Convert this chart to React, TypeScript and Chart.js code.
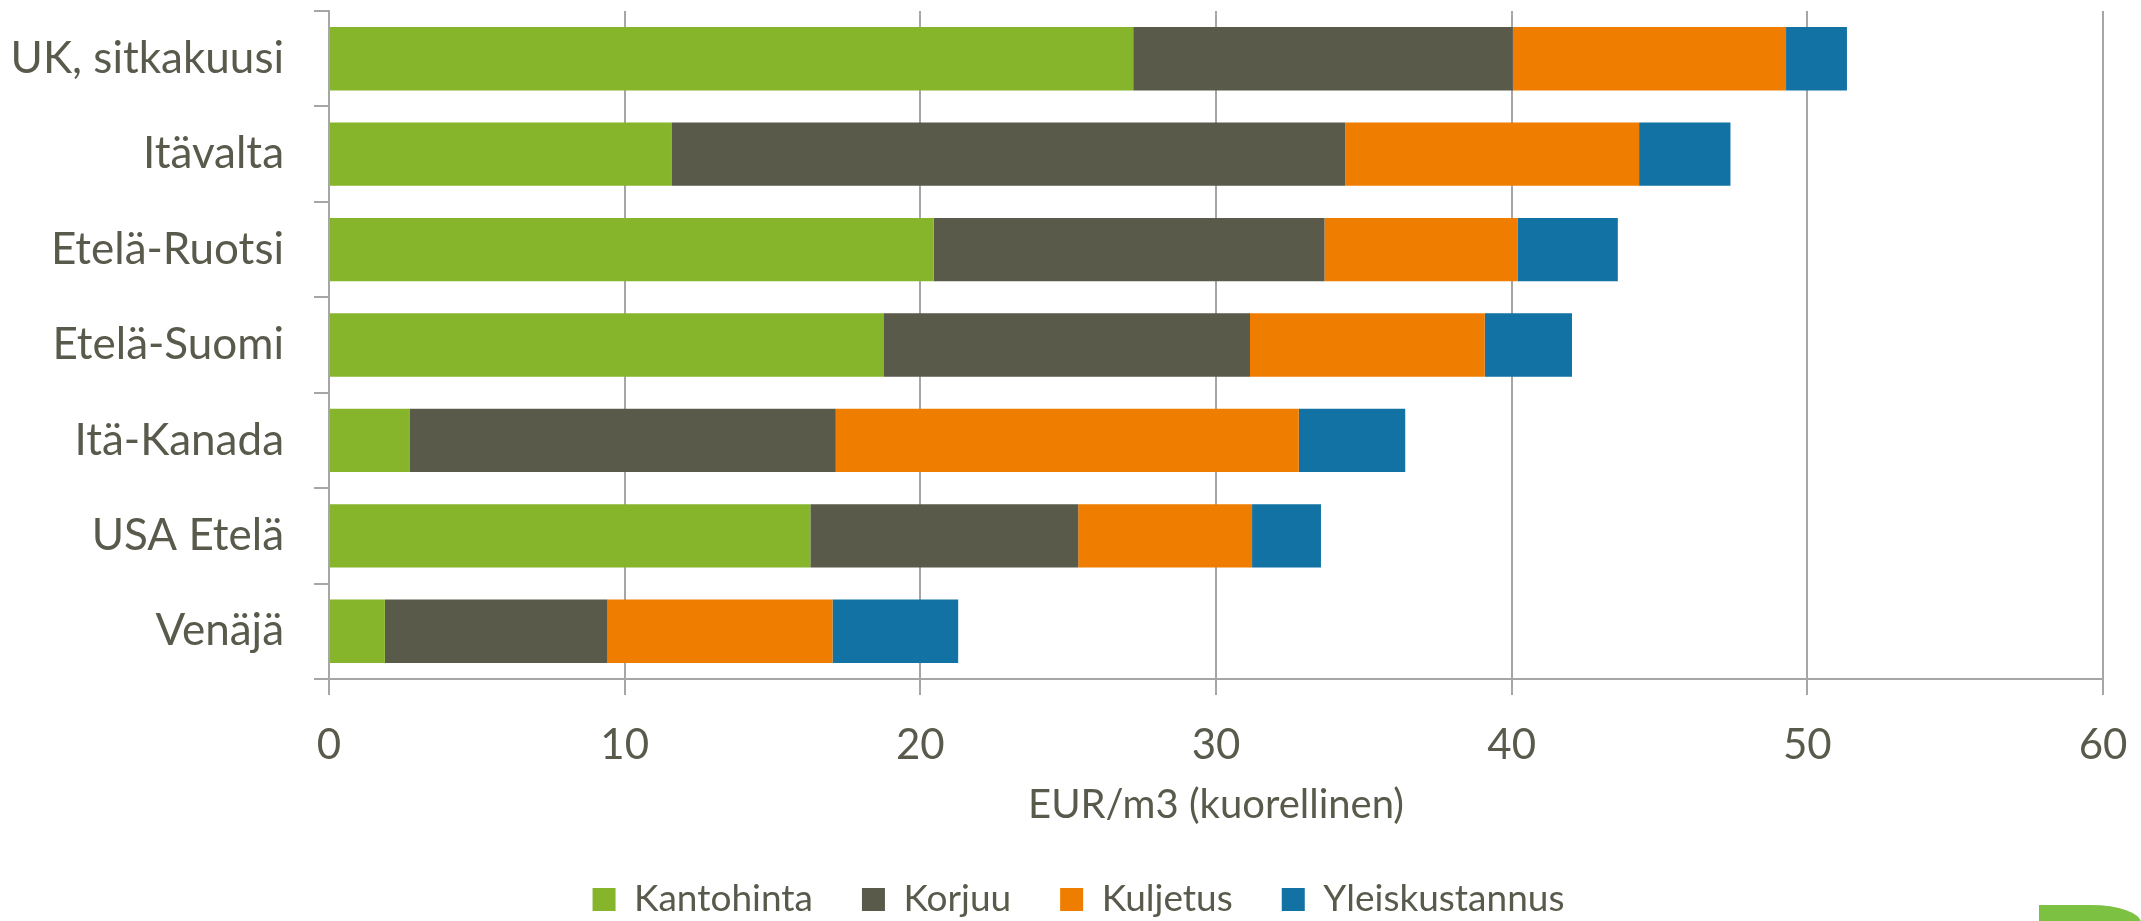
import React, { useEffect, useRef } from 'react';
import { Chart, registerables } from 'chart.js';

Chart.register(...registerables);

const categories = ['UK, sitkakuusi', 'Itävalta', 'Etelä-Ruotsi', 'Etelä-Suomi', 'Itä-Kanada', 'USA Etelä', 'Venäjä'];
const seriesNames = ['Kantohinta', 'Korjuu', 'Kuljetus', 'Yleiskustannus'];
const kantohinta = [27.2, 11.6, 20.45, 18.75, 2.72, 16.28, 1.89];
const korjuu = [12.84, 22.77, 13.22, 12.4, 14.42, 9.06, 7.53];
const kuljetus = [9.24, 9.94, 6.54, 7.94, 15.66, 5.88, 7.61];
const yleiskustannus = [2.06, 3.09, 3.38, 2.95, 3.6, 2.33, 4.25];
const xMin = 0;
const xMax = 60;
const xStep = 10;
const axisTitle = 'EUR/m3 (kuorellinen)';

const seriesColors = ['#86B42A', '#5A5A4B', '#EF7D00', '#1172A3'];
const textColor = '#595A4B';
const gridColor = '#A6A6A6';
const FONT = 'Lato, "Open Sans", sans-serif';
const W = 2141;
const H = 921;
const LEGEND_X = 27;
const LEGEND_Y = 832;

export default function App() {
  const ref = useRef<HTMLCanvasElement | null>(null);

  useEffect(() => {
    if (!ref.current) return;
    const values = [kantohinta, korjuu, kuljetus, yleiskustannus];
    const legendPlace = {
      id: 'legendPlace',
      afterLayout(chart: any) {
        const lg = chart.legend;
        if (!lg) return;
        const w = lg.right - lg.left;
        const h = lg.bottom - lg.top;
        lg.left = LEGEND_X;
        lg.right = LEGEND_X + w;
        lg.top = LEGEND_Y;
        lg.bottom = LEGEND_Y + h;
      },
    };
    const chart = new Chart(ref.current, {
      type: 'bar',
      data: {
        labels: categories,
        datasets: seriesNames.map((name, i) => ({
          label: name,
          data: values[i],
          backgroundColor: seriesColors[i],
          borderWidth: 0,
          categoryPercentage: 0.664,
          barPercentage: 1,
        })),
      },
      options: {
        indexAxis: 'y',
        responsive: false,
        animation: false,
        layout: { padding: { left: 0, right: 38, top: 11, bottom: 0 } },
        plugins: {
          legend: {
            position: 'bottom',
            labels: {
              boxWidth: 23,
              boxHeight: 23,
              padding: 49,
              color: textColor,
              font: { family: FONT, size: 37 },
            },
          },
          tooltip: { enabled: false },
        },
        scales: {
          x: {
            stacked: true,
            min: xMin,
            max: xMax,
            ticks: { stepSize: xStep, color: textColor, font: { family: FONT, size: 42 }, padding: 25 },
            grid: { color: gridColor, lineWidth: 2, tickLength: 16 },
            border: { color: gridColor, width: 2 },
            title: {
              display: true,
              text: axisTitle,
              color: textColor,
              font: { family: FONT, size: 40, lineHeight: 1 },
              padding: 0,
            },
            afterFit: (s: any) => {
              s.height = 146;
              s.paddingLeft = 0;
              s.paddingRight = 0;
            },
          },
          y: {
            stacked: true,
            ticks: { color: textColor, font: { family: FONT, size: 44 }, padding: 30 },
            grid: { drawOnChartArea: false, color: gridColor, lineWidth: 2, tickLength: 15, offset: true },
            border: { color: gridColor, width: 2 },
            afterFit: (s: any) => {
              s.width = 329;
              s.paddingTop = 0;
              s.paddingBottom = 0;
            },
          },
        },
      },
      plugins: [legendPlace],
    } as any);
    return () => chart.destroy();
  }, []);

  return (
    <div style={{ position: 'absolute', left: 0, top: 0, width: W, height: H, overflow: 'hidden', background: '#fff' }}>
      <canvas ref={ref} width={W} height={H} style={{ position: 'absolute', left: 0, top: 0, width: W, height: H }} />
      <div
        style={{
          position: 'absolute',
          left: 2039,
          top: 905,
          width: 102,
          height: 30,
          background: '#7DC142',
          borderTopRightRadius: '50px 18px',
        }}
      />
    </div>
  );
}
